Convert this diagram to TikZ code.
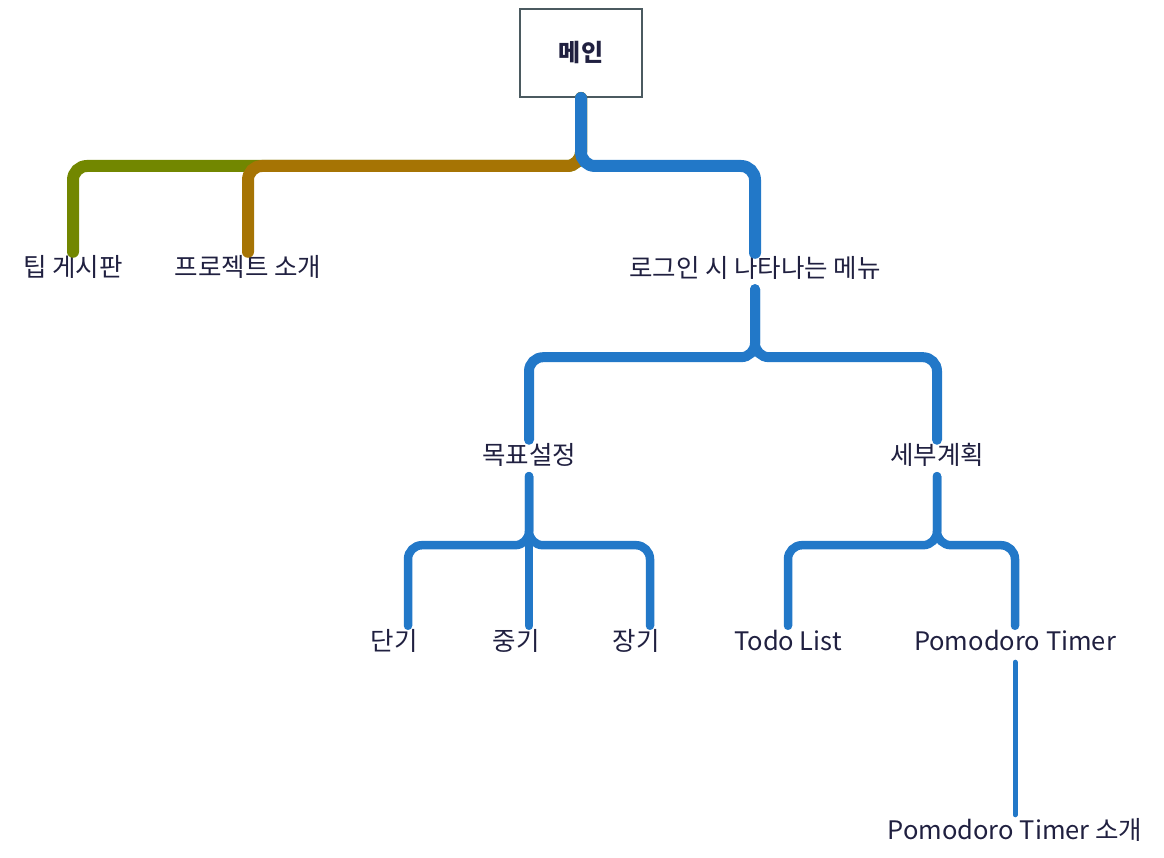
\documentclass[tikz,border=0pt]{standalone}
\usepackage{fontspec}
\setmainfont{Noto Sans CJK KR}
\definecolor{mapblue}{RGB}{34,120,200}
\definecolor{mapolive}{RGB}{114,135,0}
\definecolor{mapbrown}{RGB}{166,116,4}
\definecolor{maptext}{RGB}{32,32,64}
\definecolor{mapframe}{RGB}{75,90,96}
\tikzset{
  topic/.style={text=maptext, font=\fontsize{25.5}{30}\selectfont, inner sep=0pt,
    text height=19pt, text depth=6pt, minimum height=36pt},
  rootbox/.style={draw=mapframe, line width=2pt, fill=white, text=maptext,
    font=\fontsize{24}{28}\selectfont\bfseries, minimum width=122pt, minimum height=88pt},
  branch/.style={line cap=round, rounded corners=14pt},
}
\begin{document}
\begin{tikzpicture}[x=1pt, y=-1pt]
        \useasboundingbox (0,0) rectangle (1164,858);
        % Nodes
        \node (main)     at (581,53)   [rootbox] {메인};
        \node (tip)      at (73,270)   [topic] {팁 게시판};
        \node (proj)     at (248,270)  [topic] {프로젝트 소개};
        \node (login)    at (755,271)  [topic] {로그인 시 나타나는 메뉴};
        \node (goal)     at (529,458)  [topic] {목표설정};
        \node (plan)     at (937,458)  [topic] {세부계획};
        \node (short)    at (394,644)  [topic] {단기};
        \node (mid)      at (516,644)  [topic] {중기};
        \node (long)     at (636,644)  [topic] {장기};
        \node (todo)     at (788,644)  [topic] {Todo List};
        \node (pomo)     at (1015,644) [topic] {Pomodoro Timer};
        \node (pomoinfo) at (1015,833) [topic] {Pomodoro Timer 소개};

        % Edges
        \draw[branch, mapolive, line width=12pt] (main.south) -- ++(0,68) -| (tip.north);
        \draw[branch, mapbrown, line width=12pt] (main.south) -- ++(0,68) -| (proj.north);
        \draw[branch, mapblue, line width=12pt] (main.south) -- ++(0,68) -| (login.north);
        \draw[branch, mapblue, line width=10pt] (login.south) -- ++(0,68) -| (goal.north);
        \draw[branch, mapblue, line width=10pt] (login.south) -- ++(0,68) -| (plan.north);
        \draw[branch, mapblue, line width=8.5pt] (goal.south) -- ++(0,69) -| ([xshift=14pt]short.north);
        \draw[branch, mapblue, line width=8.5pt] (goal.south) -- (goal.south |- mid.north);
        \draw[branch, mapblue, line width=8.5pt] (goal.south) -- ++(0,69) -| ([xshift=14pt]long.north);
        \draw[branch, mapblue, line width=8.5pt] (plan.south) -- ++(0,69) -| (todo.north);
        \draw[branch, mapblue, line width=8.5pt] (plan.south) -- ++(0,69) -| (pomo.north);
        \draw[branch, mapblue, line width=5pt] (pomo.south) -- (pomoinfo.north);
      \end{tikzpicture}
\end{document}
